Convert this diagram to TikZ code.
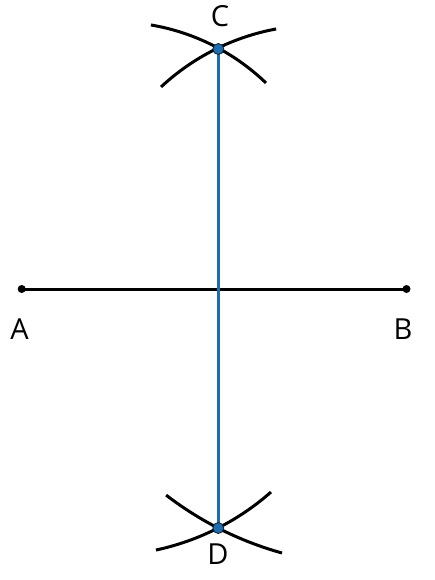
\documentclass[tikz,border=0pt]{standalone}
\usepackage{fontspec}
\setmainfont{Open Sans}
\definecolor{segblue}{RGB}{28,110,170}
\definecolor{dotblue}{RGB}{30,110,175}
\begin{document}
\begin{tikzpicture}[x=1pt,y=-1pt,
  blk/.style={line width=3pt,black},
  arcline/.style={line width=3pt,black},
  perp/.style={line width=2.4pt,segblue},
  enddot/.style={circle,fill=black,inner sep=0pt,minimum size=8pt},
  ptdot/.style={circle,fill=dotblue,draw=black!70!dotblue,line width=0.8pt,inner sep=0pt,minimum size=11pt},
  lbl/.style={font=\fontsize{29}{29}\selectfont,inner sep=0pt,anchor=center}]
\useasboundingbox (0,0) rectangle (435,580);
% points
\coordinate (A) at (21.7,289);
\coordinate (B) at (406.5,289);
\coordinate (C) at (218.3,49);
\coordinate (D) at (218.3,528);
% arc centres
\coordinate (o1) at (114.5,240.3);
\coordinate (o2) at (318.1,255.4);
\coordinate (o3) at (372.3,227.4);
\coordinate (o4) at (102.6,301.1);
% segment AB
\draw[blk] (A) -- (B);
% arcs
\draw[arcline] (o1) ++(-80.4:218.4) arc[start angle=-80.4, end angle=-46.1, radius=218.4];
\draw[arcline] (o2) ++(-133.0:230.3) arc[start angle=-133.0, end angle=-100.5, radius=230.3];
\draw[arcline] (o3) ++(127.6:337.9) arc[start angle=127.6, end angle=105.5, radius=337.9];
\draw[arcline] (o4) ++(77.9:254.6) arc[start angle=77.9, end angle=48.6, radius=254.6];
% perpendicular bisector
\draw[perp] (C) -- (D);
% dots
\node[enddot] (dA) at (A) {};
\node[enddot] (dB) at (B) {};
\node[ptdot] (dC) at (C) {};
\node[ptdot] (dD) at (D) {};
% labels
\node[lbl] (lA) at (19.5,329) {A};
\node[lbl] (lB) at (403,329) {B};
\node[lbl] (lC) at (220,16) {C};
\node[lbl] (lD) at (218,554) {D};
\end{tikzpicture}
\end{document}
